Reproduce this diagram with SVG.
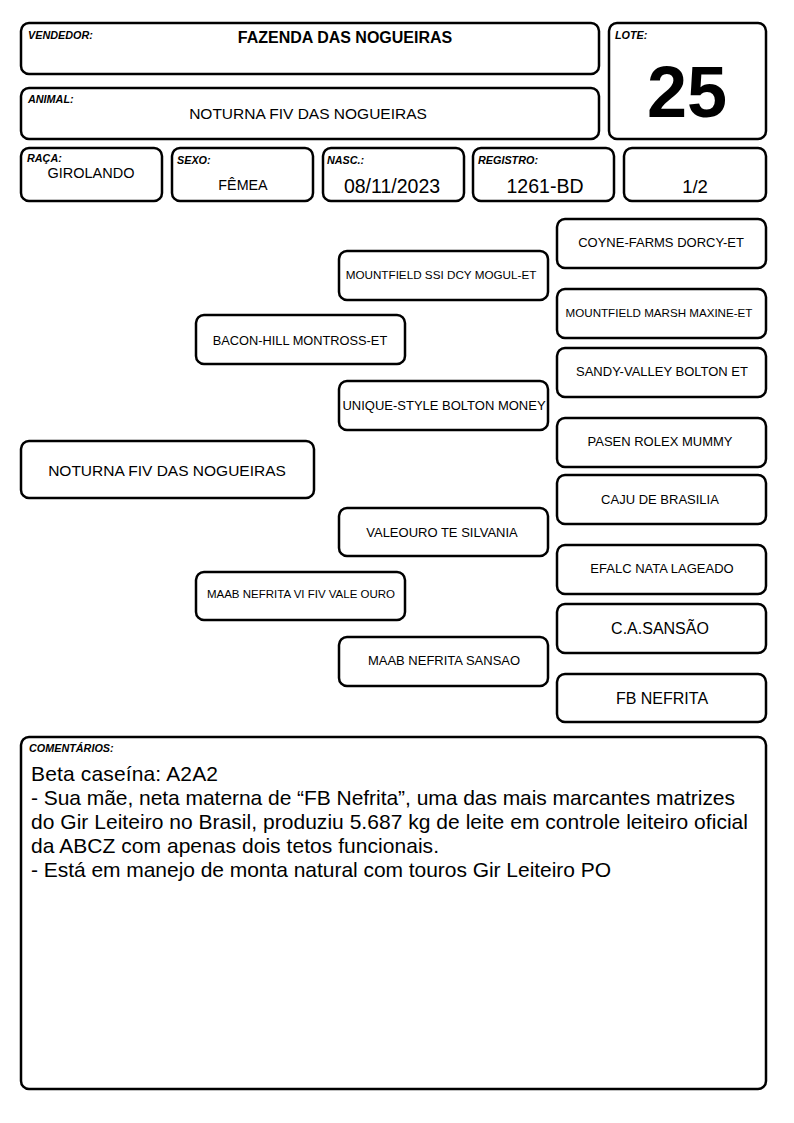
<svg xmlns="http://www.w3.org/2000/svg" width="794" height="1123" viewBox="0 0 794 1123">
<style>
.b{fill:#fff;stroke:#000;stroke-width:2.5}
text{font-family:"Liberation Sans",Arial,sans-serif;fill:#000}
.l{font-size:10.8px;font-weight:bold;font-style:italic}
.c{text-anchor:middle}
</style>
<rect width="794" height="1123" fill="#fff"/>
<g id="vendedor"><rect class="b" x="21" y="23" width="578" height="51" rx="8"/><text class="l" x="28" y="39">VENDEDOR:</text><text class="c" x="345" y="43" font-size="16" font-weight="bold">FAZENDA DAS NOGUEIRAS</text></g>
<g id="animal"><rect class="b" x="21" y="88" width="578" height="51" rx="8"/><text class="l" x="28" y="103">ANIMAL:</text><text class="c" x="308" y="119" font-size="15.5">NOTURNA FIV DAS NOGUEIRAS</text></g>
<g id="lote"><rect class="b" x="609" y="23" width="157" height="116" rx="8"/><text class="l" x="615" y="39">LOTE:</text><text class="c" x="687" y="117" font-size="72" font-weight="bold">25</text></g>
<g id="raca"><rect class="b" x="21" y="148" width="141" height="53" rx="8"/><text class="l" x="27" y="162">RAÇA:</text><text class="c" x="91" y="178" font-size="14.5">GIROLANDO</text></g>
<g id="sexo"><rect class="b" x="172" y="148" width="141" height="53" rx="8"/><text class="l" x="177" y="164">SEXO:</text><text class="c" x="243" y="190" font-size="14.3">FÊMEA</text></g>
<g id="nasc"><rect class="b" x="323" y="148" width="141" height="53" rx="8"/><text class="l" x="327" y="164">NASC.:</text><text class="c" x="392" y="193" font-size="19.5">08/11/2023</text></g>
<g id="registro"><rect class="b" x="473" y="148" width="141" height="53" rx="8"/><text class="l" x="478" y="164">REGISTRO:</text><text class="c" x="545" y="193" font-size="19.5">1261-BD</text></g>
<g id="grau"><rect class="b" x="624" y="148" width="142" height="53" rx="8"/><text class="c" x="695" y="193" font-size="18.5">1/2</text></g>
<g id="connectors"></g>
<g id="p0"><rect class="b" x="21" y="441" width="293" height="57" rx="8"/><text class="c" x="167" y="476" font-size="15.5">NOTURNA FIV DAS NOGUEIRAS</text></g>
<g id="p1"><rect class="b" x="196" y="315" width="209" height="49" rx="8"/><text class="c" x="300" y="345" font-size="12.8">BACON-HILL MONTROSS-ET</text></g>
<g id="p2"><rect class="b" x="196" y="572" width="209" height="48" rx="8"/><text class="c" x="301" y="598" font-size="11.5">MAAB NEFRITA VI FIV VALE OURO</text></g>
<g id="p3"><rect class="b" x="339" y="251" width="209" height="49" rx="8"/><text class="c" x="441" y="279" font-size="11.7">MOUNTFIELD SSI DCY MOGUL-ET</text></g>
<g id="p4"><rect class="b" x="339" y="381" width="209" height="49" rx="8"/><text class="c" x="444" y="410" font-size="13">UNIQUE-STYLE BOLTON MONEY</text></g>
<g id="p5"><rect class="b" x="339" y="508" width="209" height="48" rx="8"/><text class="c" x="442" y="537" font-size="13">VALEOURO TE SILVANIA</text></g>
<g id="p6"><rect class="b" x="339" y="637" width="209" height="49" rx="8"/><text class="c" x="444" y="665" font-size="13">MAAB NEFRITA SANSAO</text></g>
<g id="p7"><rect class="b" x="557" y="219" width="209" height="49" rx="8"/><text class="c" x="661" y="247" font-size="13">COYNE-FARMS DORCY-ET</text></g>
<g id="p8"><rect class="b" x="557" y="289" width="209" height="49" rx="8"/><text class="c" x="659" y="317" font-size="11.6">MOUNTFIELD MARSH MAXINE-ET</text></g>
<g id="p9"><rect class="b" x="557" y="348" width="209" height="49" rx="8"/><text class="c" x="662" y="376" font-size="13">SANDY-VALLEY BOLTON ET</text></g>
<g id="p10"><rect class="b" x="557" y="418" width="209" height="49" rx="8"/><text class="c" x="660" y="446" font-size="13">PASEN ROLEX MUMMY</text></g>
<g id="p11"><rect class="b" x="557" y="475" width="209" height="49" rx="8"/><text class="c" x="660" y="504" font-size="13">CAJU DE BRASILIA</text></g>
<g id="p12"><rect class="b" x="557" y="545" width="209" height="49" rx="8"/><text class="c" x="662" y="573" font-size="13">EFALC NATA LAGEADO</text></g>
<g id="p13"><rect class="b" x="557" y="604" width="209" height="49" rx="8"/><text class="c" x="660" y="634" font-size="16">C.A.SANSÃO</text></g>
<g id="p14"><rect class="b" x="557" y="674" width="209" height="48" rx="8"/><text class="c" x="662" y="704" font-size="16">FB NEFRITA</text></g>
<g id="comentarios"><rect class="b" x="21" y="737" width="745" height="352" rx="8"/><text class="l" x="29" y="752">COMENTÁRIOS:</text>
<text font-size="21"><tspan x="31" y="781" textLength="187" lengthAdjust="spacing">Beta caseína: A2A2</tspan></text>
<text font-size="21" x="31" y="805" textLength="704" lengthAdjust="spacing">- Sua mãe, neta materna de “FB Nefrita”, uma das mais marcantes matrizes</text>
<text font-size="21" x="31" y="829" textLength="717" lengthAdjust="spacing">do Gir Leiteiro no Brasil, produziu 5.687 kg de leite em controle leiteiro oficial</text>
<text font-size="21" x="31" y="853" textLength="408" lengthAdjust="spacing">da ABCZ com apenas dois tetos funcionais.</text>
<text font-size="21" x="31" y="877" textLength="580" lengthAdjust="spacing">- Está em manejo de monta natural com touros Gir Leiteiro PO</text></g>
</svg>
